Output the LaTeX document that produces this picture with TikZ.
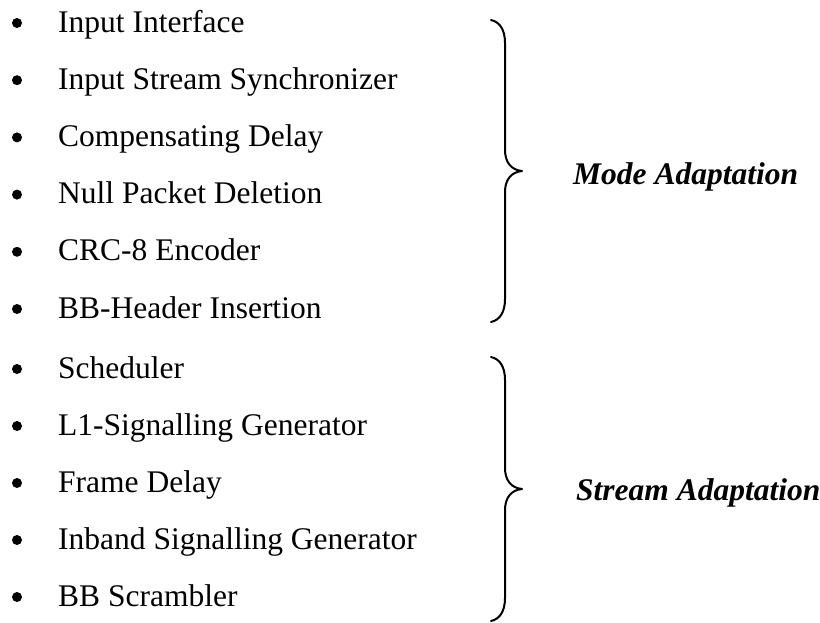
\documentclass[tikz,border=0pt]{standalone}
\usepackage{fontspec}
\setmainfont{Liberation Serif}
\begin{document}
\begin{tikzpicture}[x=1pt,y=-1pt,
  item/.style={anchor=base west,inner sep=0pt,font=\fontsize{31.5}{36}\selectfont},
  group/.style={anchor=base west,inner sep=0pt,font=\fontsize{31.5}{36}\selectfont\bfseries\itshape},
  bracepath/.style={line width=2pt,line cap=round,line join=round}]
\useasboundingbox (0,0) rectangle (820,622);
\foreach \t [count=\i from 0] in {Input Interface,Input Stream Synchronizer,Compensating Delay,Null Packet Deletion,CRC-8 Encoder,BB-Header Insertion}{
  \pgfmathsetmacro{\yy}{32+57.2*\i}
  \fill (17,\yy-9) circle (5);
  \node[item] (m\i) at (58,\yy) {\t};
}
\foreach \t [count=\i from 0] in {Scheduler,L1-Signalling Generator,Frame Delay,Inband Signalling Generator,BB Scrambler}{
  \pgfmathsetmacro{\yy}{378+57*\i}
  \fill (17,\yy-9) circle (5);
  \node[item] (s\i) at (58,\yy) {\t};
}
% brace 1
\draw[bracepath] (491,20) .. controls (500,22) and (505,30) .. (505,43) -- (505,150)
  .. controls (505,162) and (511,170) .. (522,171)
  .. controls (511,172) and (505,180) .. (505,192) -- (505,299)
  .. controls (505,312) and (500,320) .. (491,322);
% brace 2
\draw[bracepath] (491,357) .. controls (500,359) and (505,367) .. (505,380) -- (505,468)
  .. controls (505,480) and (511,488) .. (522,489)
  .. controls (511,490) and (505,498) .. (505,510) -- (505,598)
  .. controls (505,611) and (500,619) .. (491,621);
\node[group] (mode) at (573,184) {Mode Adaptation};
\node[group] (stream) at (576,500) {Stream Adaptation};
\end{tikzpicture}
\end{document}
